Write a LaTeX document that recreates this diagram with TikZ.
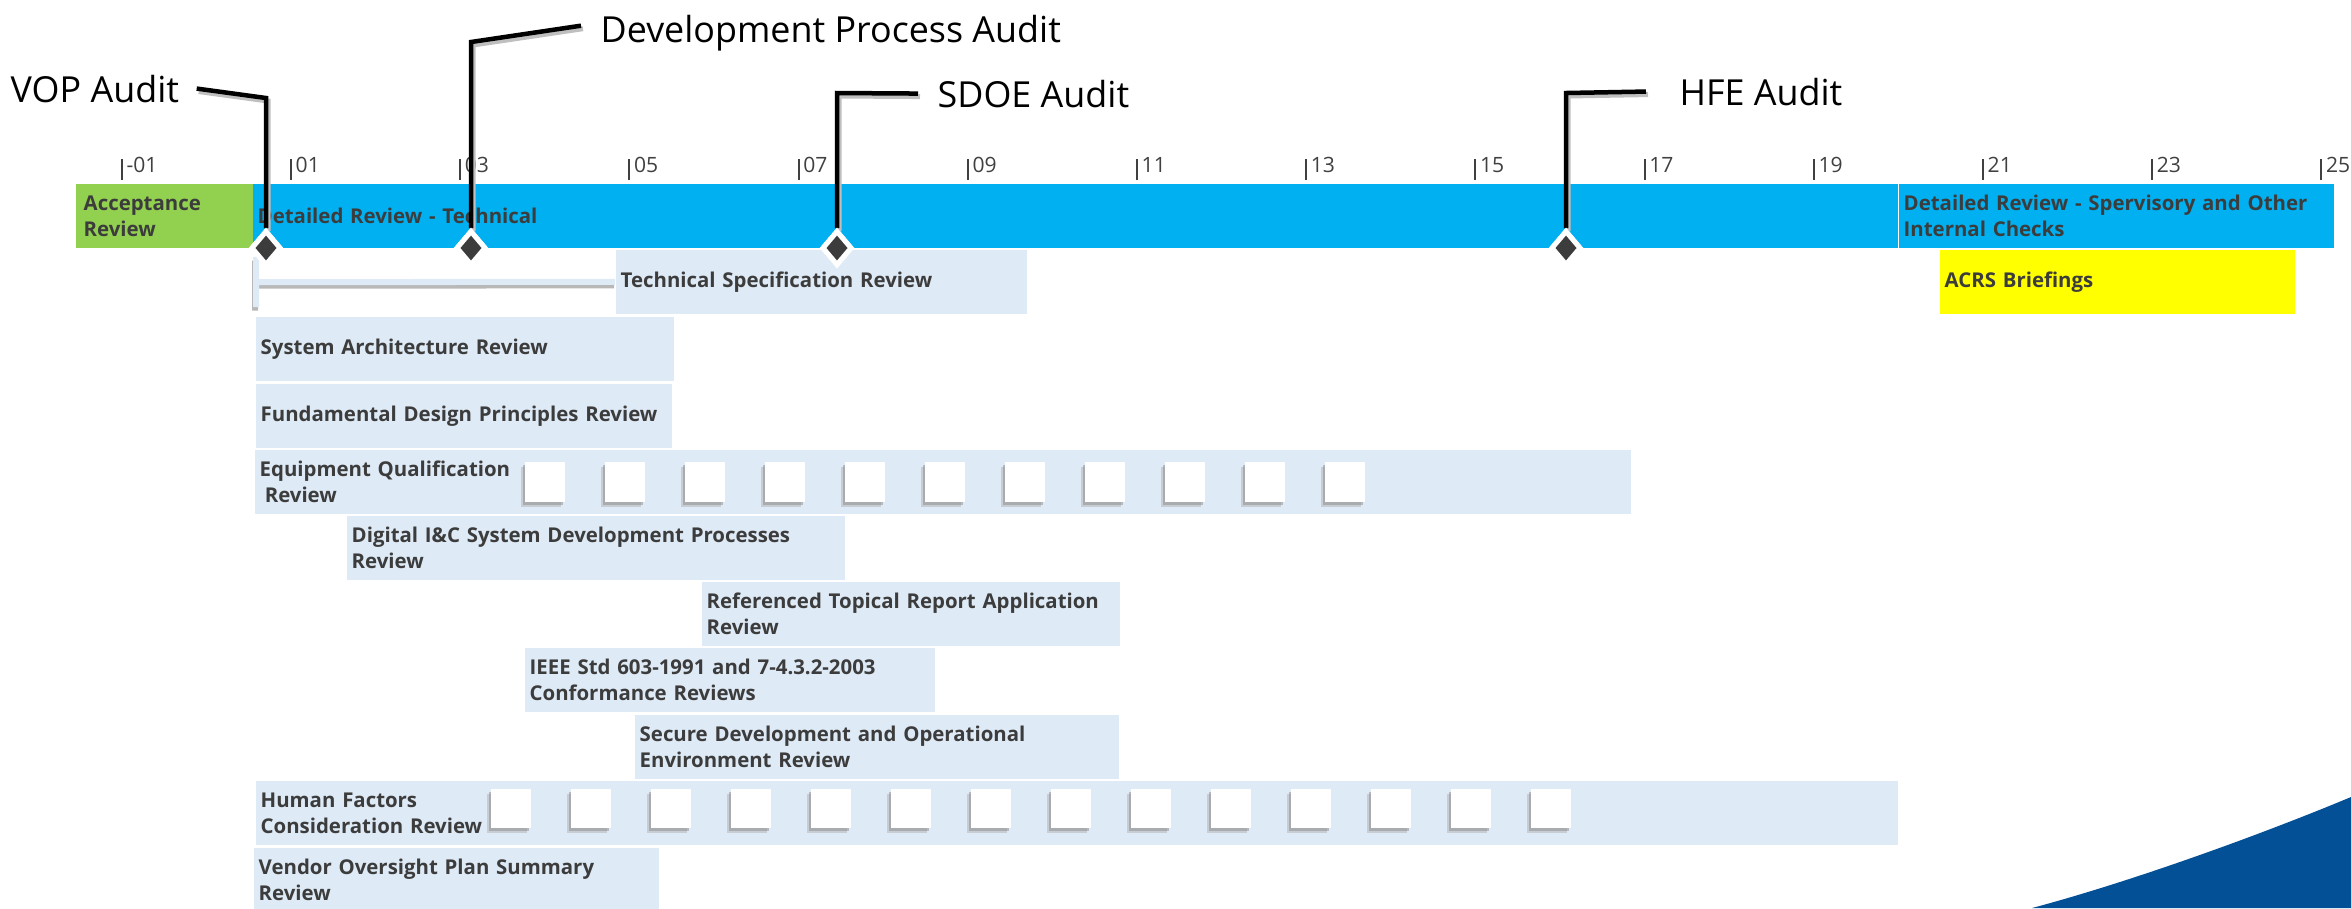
\documentclass[tikz,border=0pt]{standalone}
\usepackage{fontspec}
\setmainfont{Open Sans}
\usetikzlibrary{shapes.geometric}

\definecolor{accgreen}{RGB}{146,208,80}
\definecolor{accblue}{RGB}{0,176,240}
\definecolor{lightbar}{RGB}{222,234,246}
\definecolor{txtgray}{RGB}{60,60,60}
\definecolor{acrsyellow}{RGB}{255,255,0}
\definecolor{swoosh}{RGB}{4,80,150}

\newcommand{\bb}{\bfseries\fontsize{5.8}{7.4}\selectfont}

\begin{document}
\begin{tikzpicture}[x=0.01cm, y=-0.01cm,
  task/.style={anchor=north west, inner xsep=0.05cm, inner ysep=0pt, minimum height=0.645cm,
               align=left, text=txtgray, font=\bb, fill=lightbar},
  milestone/.style={diamond, fill=txtgray, draw=white, line width=0.05cm,
                    minimum width=0.3cm, minimum height=0.35cm, inner sep=0pt},
  calltext/.style={anchor=base west, inner sep=0pt, font=\fontsize{10.2}{12}\selectfont},
  leader/.style={line width=0.045cm,
                 preaction={draw=black!25, line width=0.05cm, transform canvas={xshift=0.02cm, yshift=-0.03cm}}},
  tickmark/.style={line width=0.02cm, black!75},
  ticklbl/.style={anchor=base west, inner sep=0pt, text=black!75, font=\fontsize{6}{7}\selectfont},
  summary/.style={line width=0.06cm, lightbar,
                  preaction={draw=black!28, line width=0.06cm, transform canvas={xshift=-0.01cm, yshift=-0.035cm}}},
  box/.style={fill=white}
]
\useasboundingbox (0,0) rectangle (2351,908);

% time scale
\foreach \m/\l in {-1/-01,1/01,3/03,5/05,7/07,9/09,11/11,13/13,15/15,17/17,19/19,21/21,23/23,25/25} {
  \draw[tickmark] ({206.4+84.6*\m},159) -- ({206.4+84.6*\m},180);
  \node[ticklbl] (tk\m) at ({210.4+84.6*\m},172) {\l};
}

% phases
\node[task, fill=accgreen, inner xsep=0.08cm, text width=1.61cm] (acc) at (75,183) {Acceptance\\Review};
\node[task, fill=accblue, text width=16.34cm] (dtech) at (252,183) {Detailed Review - Technical};
\node[task, fill=accblue, text width=4.25cm] (dsup) at (1898,183) {Detailed Review - Spervisory and Other\\Internal Checks};

% reviews
\node[task, text width=4.01cm] (tsr) at (615,249) {Technical Specification Review};
\node[task, fill=acrsyellow, text width=3.45cm] (acrs) at (1939,249) {ACRS Briefings};
\node[task, text width=4.08cm] (sar) at (255,316) {System Architecture Review};
\node[task, text width=4.06cm] (fdp) at (255,383) {Fundamental Design Principles Review};
\node[task, text width=13.65cm] (eqr) at (254,449) {Equipment Qualification\\\hspace*{0.25em}Review};
\node[task, text width=4.88cm] (dic) at (346,515) {Digital I\&C System Development Processes\\Review};
\node[task, text width=4.08cm] (rtr) at (701,581) {Referenced Topical Report Application\\Review};
\node[task, text width=4.00cm] (ieee) at (524,647) {IEEE Std 603-1991 and 7-4.3.2-2003\\Conformance Reviews};
\node[task, text width=4.74cm] (sdr) at (634,714) {Secure Development and Operational\\Environment Review};
\node[task, text width=16.31cm] (hfc) at (255,780) {Human Factors\\Consideration Review};
\node[task, text width=3.95cm] (vos) at (253,847) {Vendor Oversight Plan Summary\\Review};

\foreach \k in {0,...,10} {
  \fill[black!30, opacity=.5] ({521+80*\k},467) rectangle ++(40,40);
  \fill[black!45, opacity=.5] ({523+80*\k},465) rectangle ++(40,40);
  \fill[box] ({525+80*\k},462) rectangle ++(40,40);
}
\foreach \k in {0,...,13} {
  \fill[black!30, opacity=.5] ({487+80*\k},794) rectangle ++(40,39);
  \fill[black!45, opacity=.5] ({489+80*\k},792) rectangle ++(40,39);
  \fill[box] ({491+80*\k},789) rectangle ++(40,39);
}

\coordinate (tsrk) at (256,282);
\draw[summary] (tsr.west) -- (tsrk) ++(0,-25) -- ++(0,50);

% audits
\node[calltext] (vopt) at (10,102) {VOP Audit};
\node[calltext] (devt) at (600,42) {Development Process Audit};
\node[calltext] (sdoet) at (937,107) {SDOE Audit};
\node[calltext] (hfet) at (1679,105) {HFE Audit};

\coordinate (vopk) at (266,98);
\coordinate (devk) at (471,42);
\coordinate (sdoek) at (837,93);
\coordinate (hfek) at (1566,93);

\node[milestone] (vop) at (266,248) {};
\node[milestone] (dev) at (471,248) {};
\node[milestone] (sdoe) at (837,248) {};
\node[milestone] (hfe) at (1566,248) {};

\draw[leader] ([xshift=0.17cm]vopt.east) -- (vopk) -- (vop.north);
\draw[leader] ([xshift=-0.19cm, yshift=0.07cm]devt.west) -- (devk) -- (dev.north);
\draw[leader] ([xshift=-0.19cm]sdoet.west) -- (sdoek) -- (sdoe.north);
\draw[leader] ([xshift=-0.33cm]hfet.west) -- (hfek) -- (hfe.north);

\node[milestone] at (vop) {};
\node[milestone] at (dev) {};
\node[milestone] at (sdoe) {};
\node[milestone] at (hfe) {};

\fill[swoosh] (2032,908) .. controls (2130,882) and (2260,835) .. (2351,797) -- (2351,908) -- cycle;
\end{tikzpicture}
\end{document}
